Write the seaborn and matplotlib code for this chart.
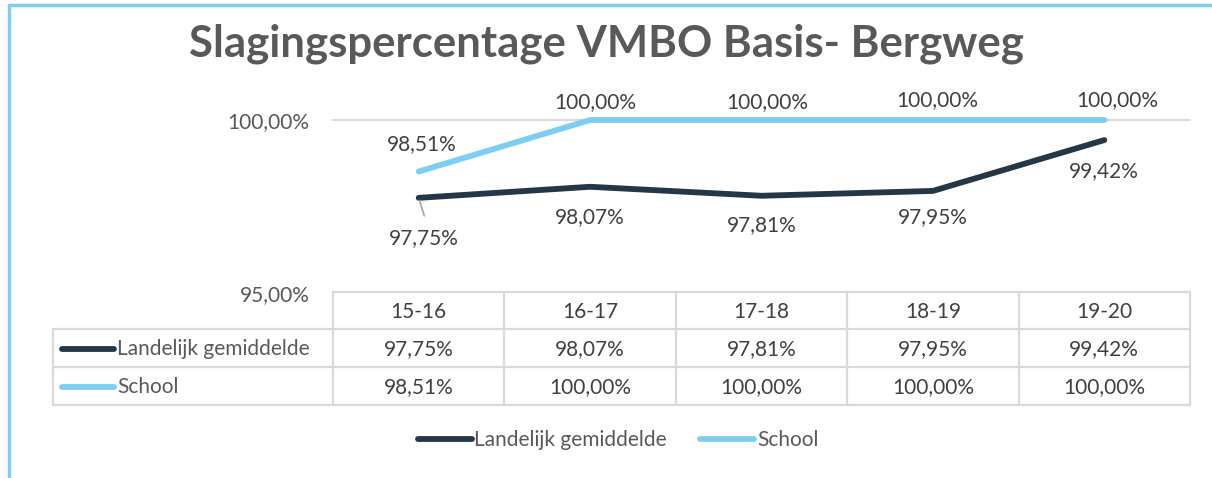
import matplotlib
matplotlib.use("Agg")
import matplotlib.pyplot as plt
from matplotlib.lines import Line2D
import seaborn as sns
import pandas as pd

years = ["15-16", "16-17", "17-18", "18-19", "19-20"]
landelijk = [97.75, 98.07, 97.81, 97.95, 99.42]
school = [98.51, 100.00, 100.00, 100.00, 100.00]
series_names = ["Landelijk gemiddelde", "School"]
title = "Slagingspercentage VMBO Basis- Bergweg"
yticks = [95.0, 100.0]

DARK = "#253746"
LIGHT = "#7ecef4"
TXT = "#595959"
DLBL = "#404040"
GRID = "#d9d9d9"
FS = 15

sns.set_theme(style="white")
plt.rcParams["font.family"] = ["Lato", "DejaVu Sans"]

W, H = 1212, 478
fig = plt.figure(figsize=(W / 100, H / 100), dpi=100)

def fx(x):
    return x / W

def fy(y):
    return 1 - y / H

ax = fig.add_axes([fx(333), fy(293), fx(1190) - fx(333), fy(120) - fy(293)])

df = pd.DataFrame({"year": years * 2,
                   "value": landelijk + school,
                   "serie": [series_names[0]] * len(years) + [series_names[1]] * len(years)})
sns.lineplot(data=df, x="year", y="value", hue="serie", palette=[DARK, LIGHT],
             linewidth=4.2, ax=ax, legend=False, sort=False)
for ln in ax.lines:
    ln.set_solid_capstyle("round")
    ln.set_solid_joinstyle("round")
    ln.set_clip_on(False)

ax.set_xlim(-0.5, len(years) - 0.5)
ax.set_ylim(95, 100)
ax.set_yticks(yticks)
ax.set_yticklabels([f"{v:.2f}%".replace(".", ",") for v in yticks], color=TXT, fontsize=FS)
ax.tick_params(axis="y", length=0, pad=17)
ax.set_xticks([])
ax.set_xlabel("")
ax.set_ylabel("")
for s in ax.spines.values():
    s.set_visible(False)
ax.axhline(100, color=GRID, lw=1.5, zorder=0, clip_on=False)

def fmt(v):
    return f"{v:.2f}%".replace(".", ",")

# data labels
school_off = [(2, 20), (4, 13), (4, 13), (3, 14), (9, 14)]
for i, v in enumerate(school):
    dx, dy = school_off[i]
    ax.annotate(fmt(v), (i, v), xytext=(dx, dy), textcoords="offset points",
                ha="center", va="center", fontsize=FS, color=DLBL, annotation_clip=False)
land_off = [(4, -29), (0, -22), (0, -21), (0, -19), (0, -22)]
for i, v in enumerate(landelijk):
    dx, dy = land_off[i]
    ax.annotate(fmt(v), (i, v), xytext=(dx, dy), textcoords="offset points",
                ha="center", va="center", fontsize=FS, color=DLBL, annotation_clip=False)
# leader line for first label
ax.annotate("", (0, landelijk[0]), xytext=(4, -13), textcoords="offset points",
            arrowprops=dict(arrowstyle="-", color="#a6a6a6", lw=1.2, shrinkA=0, shrinkB=2),
            annotation_clip=False)

# title
fig.text(fx(606), fy(44), title, ha="center", va="center", fontsize=31.5,
         fontweight="bold", color=TXT)

# data table
tl = dict(color=GRID, lw=1.6, transform=fig.transFigure)
col_edges = [ax.transData.transform((i - 0.5, 0))[0] for i in range(len(years) + 1)]
ytop, yr1, yr2, ybot = 292, 329, 367, 405
xleft = 53
fig.add_artist(Line2D([col_edges[0] / W, col_edges[-1] / W], [fy(ytop)] * 2, **tl))
for yy in (yr1, yr2, ybot):
    fig.add_artist(Line2D([fx(xleft), col_edges[-1] / W], [fy(yy)] * 2, **tl))
fig.add_artist(Line2D([fx(xleft)] * 2, [fy(yr1), fy(ybot)], **tl))
for c in col_edges:
    fig.add_artist(Line2D([c / W] * 2, [fy(ytop), fy(ybot)], **tl))

centers = [ax.transData.transform((i, 0))[0] / W for i in range(len(years))]
for i, yr in enumerate(years):
    fig.text(centers[i], fy((ytop + yr1) / 2 + 1), yr, ha="center", va="center", fontsize=FS, color=DLBL)
for row, (vals, name, col) in enumerate([(landelijk, series_names[0], DARK), (school, series_names[1], LIGHT)]):
    y0, y1 = [(yr1, yr2), (yr2, ybot)][row]
    yc = fy((y0 + y1) / 2 + 1)
    for i, v in enumerate(vals):
        fig.text(centers[i], yc, fmt(v), ha="center", va="center", fontsize=FS, color=DLBL)
    fig.add_artist(Line2D([fx(62), fx(114)], [yc, yc], color=col, lw=4.2,
                          solid_capstyle="round", transform=fig.transFigure))
    fig.text(fx(117), yc, name, ha="left", va="center", fontsize=FS, color=TXT)

# legend
handles = [Line2D([], [], color=DARK, lw=4.2, solid_capstyle="round"),
           Line2D([], [], color=LIGHT, lw=4.2, solid_capstyle="round")]
leg = fig.legend(handles, series_names, loc="center", bbox_to_anchor=(fx(618), fy(440)),
                 ncol=2, frameon=False, fontsize=FS, handlelength=2.6, handletextpad=0.12,
                 columnspacing=1.6, labelcolor=TXT)

# frame
fig.add_artist(Line2D([fx(9), fx(9)], [fy(5), 0], color=LIGHT, lw=2.5, transform=fig.transFigure))
fig.add_artist(Line2D([fx(9), 1], [fy(5), fy(5)], color=LIGHT, lw=2.5, transform=fig.transFigure))

fig.savefig("out.png", dpi=100)
